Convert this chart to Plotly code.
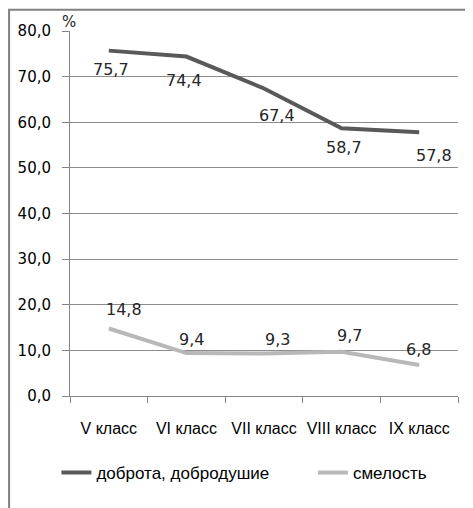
import plotly.graph_objects as go

categories = ["V класс", "VI класс", "VII класс", "VIII класс", "IX класс"]
kindness = [75.7, 74.4, 67.4, 58.7, 57.8]
courage = [14.8, 9.4, 9.3, 9.7, 6.8]
series_names = ["доброта, добродушие", "смелость"]
y_ticks = [0, 10, 20, 30, 40, 50, 60, 70, 80]
y_tick_labels = ["0,0", "10,0", "20,0", "30,0", "40,0", "50,0", "60,0", "70,0", "80,0"]

def fmt(v):
    return f"{v:.1f}".replace(".", ",")

fig = go.Figure()
fig.add_trace(go.Scatter(x=categories, y=kindness, mode="lines", name=series_names[0],
                         line=dict(color="#595959", width=4), legend="legend"))
fig.add_trace(go.Scatter(x=categories, y=courage, mode="lines", name=series_names[1],
                         line=dict(color="#b8b8b8", width=4), legend="legend2"))

# label offsets (pixels) as placed in the reference
k_off = [(2, -19), (-2, -24), (13, -27), (2, -19), (15, -23)]
c_off = [(15, 19), (5, 14), (13, 14), (8, 16), (-1, 15)]
annotations = []
for i, c in enumerate(categories):
    annotations.append(dict(x=c, y=kindness[i], text=fmt(kindness[i]), showarrow=False,
                            xshift=k_off[i][0], yshift=k_off[i][1],
                            font=dict(family="DejaVu Sans", size=16, color="#262626")))
    annotations.append(dict(x=c, y=courage[i], text=fmt(courage[i]), showarrow=False,
                            xshift=c_off[i][0], yshift=c_off[i][1],
                            font=dict(family="DejaVu Sans", size=16, color="#262626")))
annotations.append(dict(xref="paper", yref="paper", x=-0.025, y=0.995, text="%", showarrow=False,
                        xanchor="left", yanchor="bottom",
                        font=dict(family="DejaVu Sans", size=15, color="#262626")))

legend_font = dict(family="Liberation Sans", size=17, color="#000000")
fig.update_layout(
    width=473, height=508,
    margin=dict(l=62, r=23, t=23, b=120, autoexpand=False),
    paper_bgcolor="white", plot_bgcolor="white",
    showlegend=True,
    legend=dict(orientation="h", x=-0.035, xanchor="left", y=-0.211, yanchor="middle",
                font=legend_font, tracegroupgap=0),
    legend2=dict(orientation="h", x=0.626, xanchor="left", y=-0.211, yanchor="middle",
                 font=legend_font, tracegroupgap=0),
    annotations=annotations,
    shapes=[
        dict(type="rect", xref="paper", yref="paper", x0=-0.157, x1=1.2, y0=1.058, y1=-0.5,
             line=dict(color="#808080", width=2), fillcolor="rgba(0,0,0,0)", layer="above"),
    ],
    xaxis=dict(type="category", range=[-0.5, 4.5], showgrid=False, automargin=False,
               showline=True, linecolor="#868686", linewidth=1,
               ticks="outside", tickson="boundaries", ticklen=6, tickcolor="#868686",
               tickangle=0,
               tickfont=dict(family="Liberation Sans", size=16, color="#000000"),
               ticklabelstandoff=18),
    yaxis=dict(range=[0, 80], tickvals=y_ticks, ticktext=y_tick_labels, automargin=False,
               showgrid=True, gridcolor="#8c8c8c", gridwidth=1,
               showline=True, linecolor="#868686", linewidth=1,
               ticks="outside", ticklen=7, tickcolor="#868686",
               tickfont=dict(family="DejaVu Sans", size=15, color="#000000"),
               ticklabelstandoff=8, zeroline=False),
)

fig.write_html("out.html")
